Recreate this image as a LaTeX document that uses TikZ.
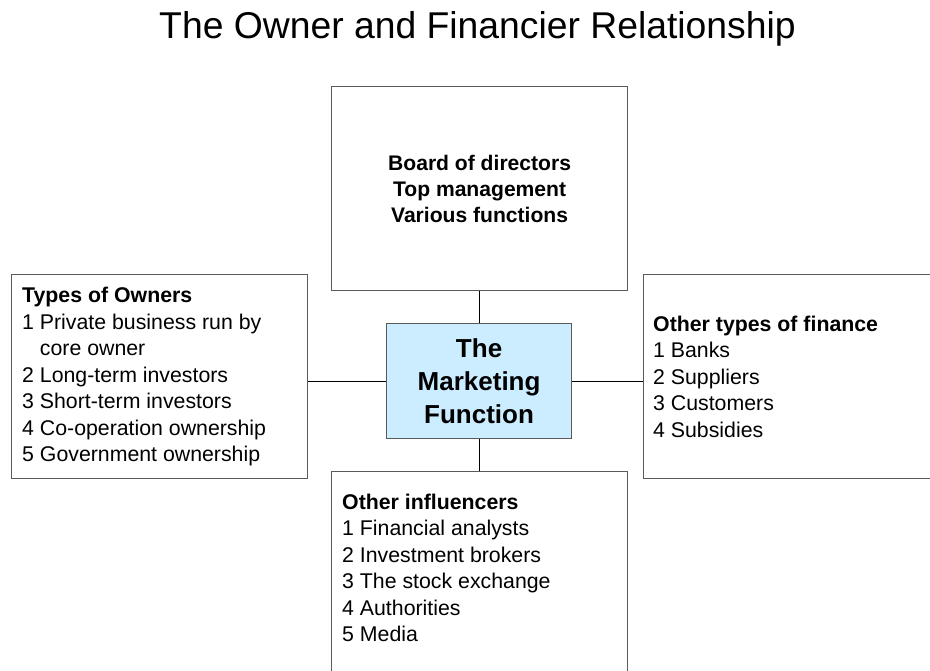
\documentclass[tikz,border=0pt]{standalone}
\usepackage{fontspec}
\setmainfont{Liberation Sans}
\definecolor{mfblue}{RGB}{204,236,255}
\definecolor{boxline}{RGB}{90,90,90}
\begin{document}
\begin{tikzpicture}[x=1pt,y=-1pt,
  box/.style={draw=boxline, line width=1.2pt, rectangle, inner sep=0pt},
  body/.style={font=\fontsize{21.3}{26.5}\selectfont, align=left, inner sep=0pt},
  conn/.style={draw=black, line width=0.9pt}]
\clip (0,0) rectangle (930,671);
\useasboundingbox (0,0) rectangle (930,671);
\fill[white] (0,0) rectangle (930,671);

\node[font=\fontsize{37.3}{45}\selectfont, inner sep=0pt, anchor=base] (title) at (477.5,39) {The Owner and Financier Relationship};

\node[box, minimum width=296pt, minimum height=204pt, anchor=north west,
  font=\fontsize{21.1}{26}\selectfont\bfseries, align=center] (top) at (331,86)
  {Board of directors\\Top management\\Various functions};

\node[box, fill=mfblue, minimum width=185pt, minimum height=115pt, anchor=north west,
  font=\fontsize{26}{33}\selectfont\bfseries, align=center] (mf) at (386,323)
  {The\\Marketing\\Function};

\node[box, minimum width=296pt, minimum height=204pt, anchor=north west] (left) at (11,274) {};
\node[body, anchor=west] (lefttext) at ([xshift=11pt]left.west)
  {\textbf{Types of Owners}\\1 Private business run by\\\phantom{1} core owner\\2 Long-term investors\\3 Short-term investors\\4 Co-operation ownership\\5 Government ownership};

\node[box, minimum width=297pt, minimum height=204pt, anchor=north west] (right) at (643,274) {};
\node[body, anchor=west] (righttext) at ([xshift=10pt]right.west)
  {\textbf{Other types of finance}\\1 Banks\\2 Suppliers\\3 Customers\\4 Subsidies};

\node[box, minimum width=296pt, minimum height=240pt, anchor=north west] (bot) at (331,471) {};
\node[body, anchor=north west] (bottext) at (342,493.5)
  {\textbf{Other influencers}\\1 Financial analysts\\2 Investment brokers\\3 The stock exchange\\4 Authorities\\5 Media};

\draw[conn] (mf.north) -- (mf.north |- top.south);
\draw[conn] (mf.south) -- (mf.south |- bot.north);
\draw[conn] (mf.west) -- (mf.west -| left.east);
\draw[conn] (mf.east) -- (mf.east -| right.west);
\end{tikzpicture}
\end{document}
